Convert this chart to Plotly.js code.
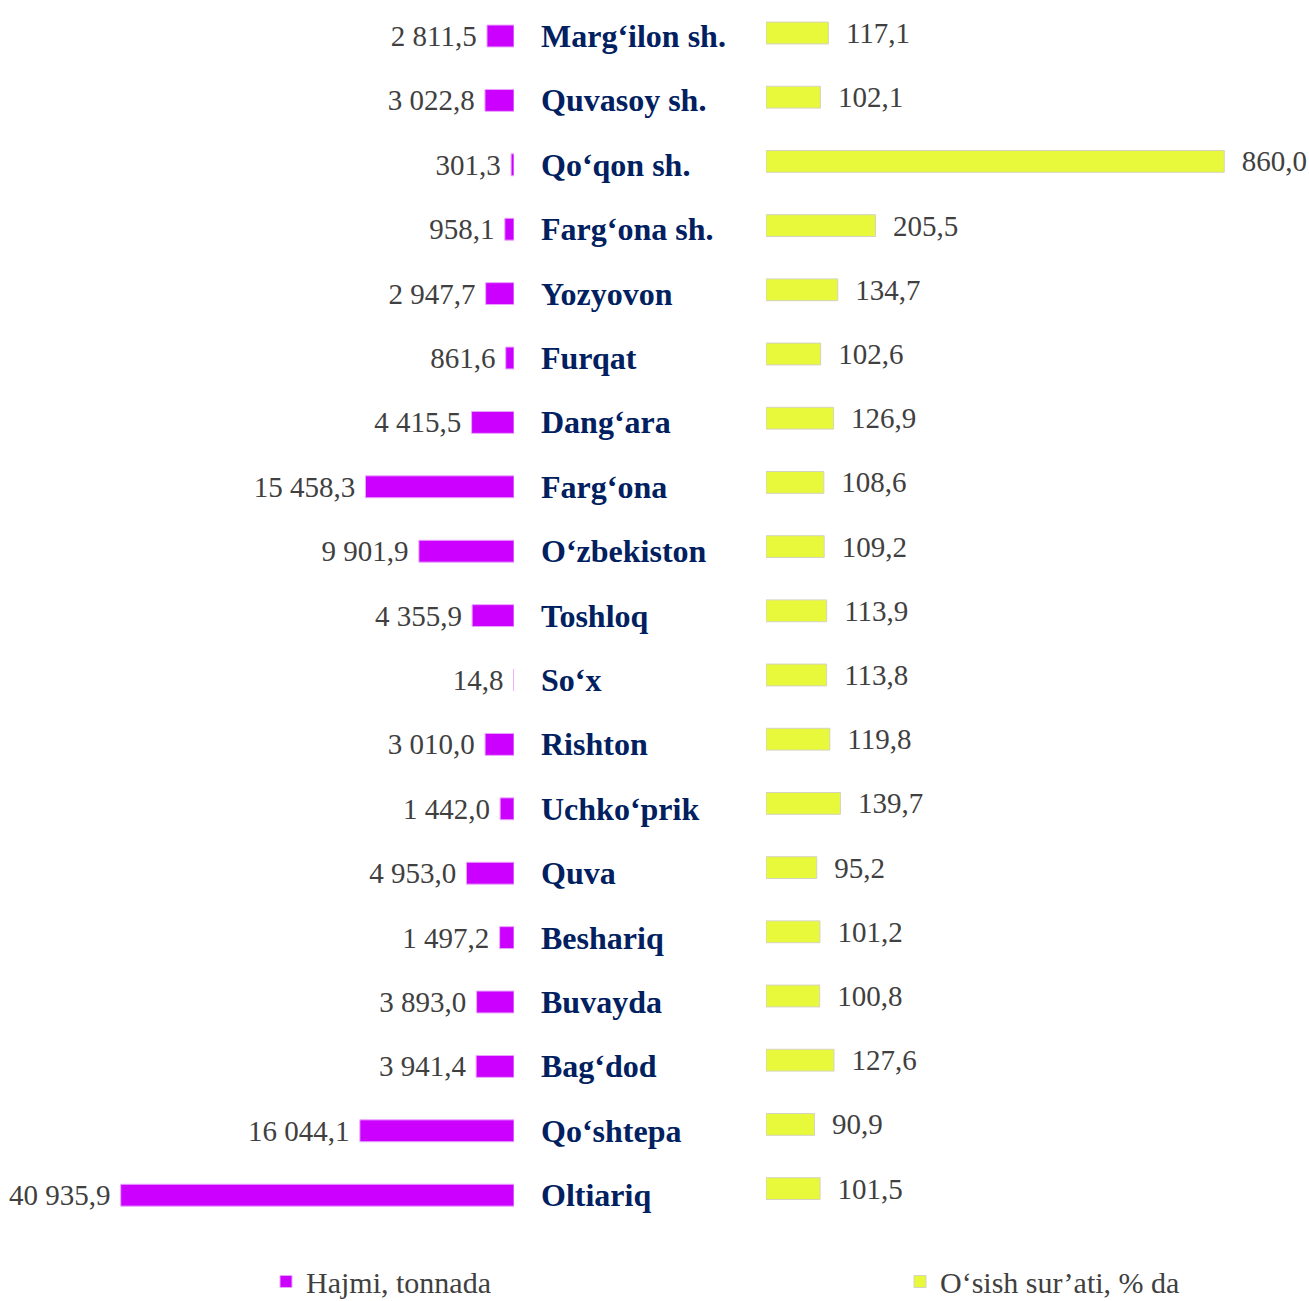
<!DOCTYPE html>
<html>
<head>
<meta charset="utf-8">
<script src="https://cdn.plot.ly/plotly-3.0.1.min.js"></script>
<style>html,body{margin:0;padding:0;background:#fff;}#chart{width:1309px;height:1301px;}</style>
</head>
<body>
<div id="chart"></div>
<script>
const categories = ["Marg‘ilon sh.","Quvasoy sh.","Qo‘qon sh.","Farg‘ona sh.","Yozyovon","Furqat","Dang‘ara","Farg‘ona","O‘zbekiston","Toshloq","So‘x","Rishton","Uchko‘prik","Quva","Beshariq","Buvayda","Bag‘dod","Qo‘shtepa","Oltiariq"];
const volume = [2811.5,3022.8,301.3,958.1,2947.7,861.6,4415.5,15458.3,9901.9,4355.9,14.8,3010.0,1442.0,4953.0,1497.2,3893.0,3941.4,16044.1,40935.9];
const growth = [117.1,102.1,860.0,205.5,134.7,102.6,126.9,108.6,109.2,113.9,113.8,119.8,139.7,95.2,101.2,100.8,127.6,90.9,101.5];
const seriesNames = ["Hajmi, tonnada","O‘sish sur’ati, % da"];

function fmt(v){
  const s = v.toFixed(1).split('.');
  const intPart = s[0].replace(/\B(?=(\d{3})+(?!\d))/g,' ');
  return intPart + ',' + s[1];
}

const SERIF = '"Liberation Serif", "Times New Roman", serif';
const labelFont = {family:SERIF, size:29, color:'#404040'};

const traces = [
  {
    type:'bar', orientation:'h', name:seriesNames[0],
    x:volume, y:categories, xaxis:'x', yaxis:'y', legend:'legend',
    width:0.34,
    marker:{color:'#CC00FF', line:{color:'#E9A6FF', width:1}},
    text:volume.map(v => fmt(v) + '\u00a0'), textposition:'outside', cliponaxis:false,
    constraintext:'none',
    textfont:labelFont, hoverinfo:'skip'
  },
  {
    type:'bar', orientation:'h', name:seriesNames[1],
    x:growth, y:categories, xaxis:'x2', yaxis:'y2', legend:'legend2',
    width:0.34,
    marker:{color:'#E8F83A', line:{color:'#D4D4C0', width:1}},
    text:growth.map(v => '\u00a0\u00a0' + fmt(v)), textposition:'outside', cliponaxis:false,
    constraintext:'none',
    textfont:labelFont, hoverinfo:'skip'
  }
];

const annotations = categories.map(c => ({
  text:'<b>'+c+'</b>', xref:'paper', yref:'y', x:539/1309, y:c,
  xanchor:'left', yanchor:'middle', showarrow:false,
  font:{family:SERIF, size:32, color:'#002060'}
}));

const hiddenY = {type:'category', range:[18.5,-0.5], showticklabels:false, showgrid:false, zeroline:false, showline:false, ticks:''};
const legendFont = {family:SERIF, size:30, color:'#404040'};

const layout = {
  width:1309, height:1301,
  margin:{l:0,r:0,t:0,b:0,autoexpand:false},
  paper_bgcolor:'#fff', plot_bgcolor:'rgba(0,0,0,0)',
  showlegend:true,
  legend:{orientation:'h', x:266/1309, y:0.015, xanchor:'left', yanchor:'middle', itemclick:false, font:legendFont, bgcolor:'rgba(0,0,0,0)'},
  legend2:{orientation:'h', x:900/1309, y:0.015, xanchor:'left', yanchor:'middle', itemclick:false, font:legendFont, bgcolor:'rgba(0,0,0,0)'},
  xaxis:{domain:[0,514/1309], range:[53500,0], showticklabels:false, showgrid:false, zeroline:false, showline:false, anchor:'y'},
  xaxis2:{domain:[766/1309,1], range:[0,1019], showticklabels:false, showgrid:false, zeroline:false, showline:false, anchor:'y2'},
  yaxis:Object.assign({domain:[1-1227.4/1301, 1-3.8/1301], anchor:'x'}, hiddenY),
  yaxis2:Object.assign({domain:[1-1220.7/1301, 1-0.9/1301], anchor:'x2'}, hiddenY),
  annotations:annotations
};

Plotly.newPlot('chart', traces, layout, {displayModeBar:false, staticPlot:true});
</script>
</body>
</html>
